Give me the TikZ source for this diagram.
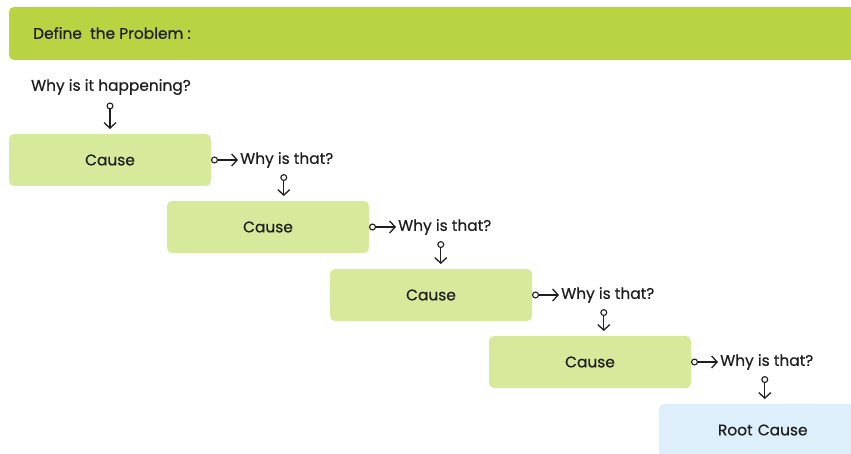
\documentclass[tikz,border=0pt]{standalone}
\usepackage{fontspec}
\setmainfont{Poppins}[FakeBold=0.6]
\usetikzlibrary{arrows.meta}
\definecolor{bannergreen}{HTML}{B8D442}
\definecolor{causegreen}{HTML}{D7E99A}
\definecolor{rootblue}{HTML}{DDEFFB}
\definecolor{inkgrey}{HTML}{1E1E1E}

\begin{document}
\begin{tikzpicture}[x=1pt, y=-1pt, font=\fontsize{15.4}{18}\selectfont, text=inkgrey,
  cause/.style={fill=causegreen, rounded corners=5pt, minimum width=202pt, minimum height=52pt, outer sep=0pt},
  why/.style={inner sep=2pt, anchor=west},
  link/.style={{Circle[open,length=7pt,width=7pt,line width=1.1pt]}-{Straight Barb[length=5.5pt,width=12pt]}, line width=1.3pt, draw=inkgrey}]
  \clip (0,0) rectangle (851,454);

  % problem banner
  \fill[bannergreen, rounded corners=5pt] (9,7) rectangle (851,60);
  \fill[bannergreen] (400,7) rectangle (851,60);
  \node[anchor=west, inner sep=0pt] (problem) at (33,33) {Define\ \ the Problem :};

  % chain of causes
  \node (q0) at (111,87) {Why is it happening?};
  \node[cause] (c1) at (110,160) {Cause};
  \node[cause] (c2) at (268,227) {Cause};
  \node[cause] (c3) at (431,295) {Cause};
  \node[cause] (c4) at (590,362) {Cause};
  \node[cause, fill=rootblue, minimum width=204pt, text width=180pt, align=left] (root) at (761,430) {\hspace{47pt}Root Cause};

  \node[why] (q1) at (238,160) {Why is that?};
  \node[why] (q2) at (396,227) {Why is that?};
  \node[why] (q3) at (559,295) {Why is that?};
  \node[why] (q4) at (718,362) {Why is that?};

  \draw[link] ([xshift=-1pt,yshift=-4pt]q0.south) -- ([xshift=-1pt,yshift=5pt]q0.south |- c1.north);
  \draw[link] (c1.east) -- (q1.west);
  \draw[link] (c2.east) -- (q2.west);
  \draw[link] (c3.east) -- (q3.west);
  \draw[link] (c4.east) -- (q4.west);
  \draw[link] ([xshift=-3pt,yshift=-4pt]q1.south) -- ([xshift=-3pt,yshift=5pt]q1.south |- c2.north);
  \draw[link] ([xshift=-4pt,yshift=-4pt]q2.south) -- ([xshift=-4pt,yshift=5pt]q2.south |- c3.north);
  \draw[link] ([xshift=-4pt,yshift=-4pt]q3.south) -- ([xshift=-4pt,yshift=5pt]q3.south |- c4.north);
  \draw[link] ([xshift=-2pt,yshift=-4pt]q4.south) -- ([xshift=-2pt,yshift=5pt]q4.south |- root.north);
\end{tikzpicture}
\end{document}
